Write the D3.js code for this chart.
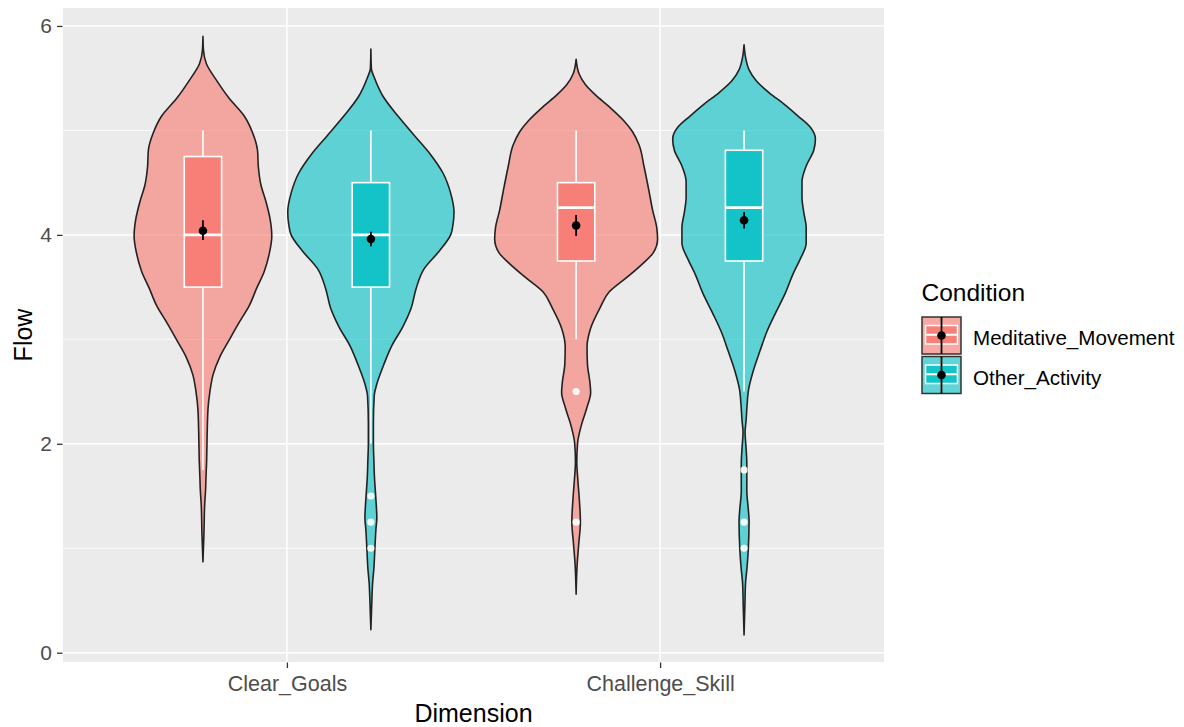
<!DOCTYPE html>
<html>
<head>
<meta charset="utf-8">
<script src="https://cdn.jsdelivr.net/npm/d3@7"></script>
<style>
  body { margin: 0; background: #ffffff; }
  text { font-family: "Liberation Sans", Arial, sans-serif; }
</style>
</head>
<body>
<svg id="chart" width="1184" height="727"></svg>
<script>
// ---- data ----
const categories = ["Clear_Goals", "Challenge_Skill"];
const conditions = ["Meditative_Movement", "Other_Activity"];
const yTicks = [0, 2, 4, 6];
const yMinorTicks = [1, 3, 5];

// violin density profiles: [Flow value, relative density (100 = widest violin)]
const densityMeditativeClear = [
  [5.90, 0], [5.77, 0.6], [5.64, 4], [5.47, 17], [5.31, 31], [5.14, 49], [4.98, 59],
  [4.81, 65], [4.65, 66], [4.48, 69], [4.32, 75], [4.15, 80], [3.99, 82], [3.82, 79],
  [3.65, 73], [3.49, 64], [3.32, 55], [3.16, 43], [2.99, 31], [2.83, 20], [2.66, 12],
  [2.50, 8.3], [2.33, 6], [2.00, 4.8], [1.84, 4.4], [1.67, 3.6], [1.57, 3.2], [1.41, 2],
  [1.14, 1.2], [0.87, 0]
];
const densityOtherClear = [
  [5.78, 0], [5.59, 0.6], [5.50, 4.4], [5.32, 15], [5.14, 32], [4.95, 52], [4.77, 71],
  [4.59, 86], [4.40, 95], [4.22, 99], [4.11, 98], [4.00, 95], [3.85, 82], [3.67, 63],
  [3.49, 54], [3.30, 48], [3.12, 38], [2.94, 25], [2.75, 15], [2.57, 7], [2.46, 4],
  [2.20, 3], [1.99, 3], [1.84, 3.6], [1.69, 4.2], [1.54, 5.4], [1.43, 6.3], [1.29, 7.1],
  [1.18, 6], [1.00, 4.8], [0.81, 3.6], [0.66, 2], [0.55, 1.4], [0.22, 0]
];
const densityMeditativeChallenge = [
  [5.68, 0], [5.54, 3.6], [5.44, 11], [5.34, 23], [5.23, 39], [5.10, 56], [4.99, 67],
  [4.86, 75], [4.65, 81], [4.41, 87], [4.24, 91], [4.07, 96], [3.96, 97], [3.83, 92],
  [3.73, 80], [3.59, 60], [3.45, 39], [3.31, 29], [3.10, 17], [2.93, 13], [2.76, 13.5],
  [2.59, 16.4], [2.49, 17.3], [2.35, 13], [2.18, 6.3], [2.01, 1.8], [1.83, 0.8],
  [1.66, 2], [1.49, 3.6], [1.25, 5.1], [1.05, 3.2], [0.84, 1.2], [0.56, 0]
];
const densityOtherChallenge = [
  [5.82, 0], [5.70, 1.8], [5.58, 6], [5.47, 15], [5.36, 30], [5.25, 48], [5.14, 64],
  [5.03, 79], [4.92, 85], [4.81, 83], [4.66, 74], [4.51, 69], [4.36, 69], [4.22, 71],
  [4.07, 74], [3.92, 74], [3.77, 67], [3.62, 58], [3.44, 49], [3.26, 38], [3.07, 27],
  [2.89, 19], [2.70, 11], [2.52, 5.4], [2.37, 3.6], [2.22, 2.4], [2.11, 1.2], [1.96, 2.4],
  [1.81, 3.3], [1.55, 3.3], [1.37, 5.1], [1.26, 6], [1.00, 5.1], [0.82, 3.6], [0.67, 1.8],
  [0.45, 1], [0.17, 0]
];

// one entry per (dimension, condition) group
const groupCategory = ["Clear_Goals", "Clear_Goals", "Challenge_Skill", "Challenge_Skill"];
const groupCondition = ["Meditative_Movement", "Other_Activity", "Meditative_Movement", "Other_Activity"];
const groupDensity = [densityMeditativeClear, densityOtherClear, densityMeditativeChallenge, densityOtherChallenge];
const whiskerLow = [1.75, 2.0, 3.0, 2.5];
const quartile1 = [3.5, 3.5, 3.75, 3.75];
const medians = [4.0, 4.0, 4.26, 4.26];
const quartile3 = [4.75, 4.5, 4.5, 4.81];
const whiskerHigh = [5, 5, 5, 5];
const outliers = [[], [1.5, 1.25, 1.0], [2.5, 1.25], [1.75, 1.25, 1.0]];
const means = [4.04, 3.96, 4.09, 4.14];
const ciLow = [3.95, 3.89, 3.99, 4.06];
const ciHigh = [4.14, 4.03, 4.19, 4.22];

// ---- layout ----
const svg = d3.select("#chart");
const panel = { left: 63, right: 884, top: 8, bottom: 662 };
const fillColor = d3.scaleOrdinal().domain(conditions).range(["#F8766D", "#00BFC4"]);

const x = d3.scalePoint().domain(categories).range([panel.left, panel.right]).padding(0.6);
const step = x.step();
const dodge = d3.scalePoint().domain(conditions).range([-0.225 * step, 0.225 * step]);
const y = d3.scaleLinear().domain([-0.089, 6.172]).range([panel.bottom, panel.top]);
const halfWidth = d3.scaleLinear().domain([0, 100]).range([0, 0.225 * step]);
const boxHalf = 0.05 * step;

// panel background and grid
svg.append("rect")
  .attr("x", panel.left).attr("y", panel.top)
  .attr("width", panel.right - panel.left).attr("height", panel.bottom - panel.top)
  .attr("fill", "#EBEBEB");

const grid = svg.append("g");
grid.selectAll(".minor").data(yMinorTicks).join("line")
  .attr("x1", panel.left).attr("x2", panel.right)
  .attr("y1", d => y(d)).attr("y2", d => y(d))
  .attr("stroke", "#ffffff").attr("stroke-width", 0.8);
grid.selectAll(".major").data(yTicks).join("line")
  .attr("x1", panel.left).attr("x2", panel.right)
  .attr("y1", d => y(d)).attr("y2", d => y(d))
  .attr("stroke", "#ffffff").attr("stroke-width", 1.5);
grid.selectAll(".vmajor").data(categories).join("line")
  .attr("x1", d => x(d)).attr("x2", d => x(d))
  .attr("y1", panel.top).attr("y2", panel.bottom)
  .attr("stroke", "#ffffff").attr("stroke-width", 1.5);

// axes
const yAxis = d3.axisLeft(y).tickValues(yTicks).tickFormat(d3.format("d")).tickSize(5.5).tickPadding(5);
svg.append("g").attr("transform", `translate(${panel.left - 0.5},0)`).call(yAxis)
  .call(g => g.select(".domain").remove())
  .call(g => g.selectAll("line").attr("stroke", "#333333").attr("stroke-width", 1.3))
  .call(g => g.selectAll("text").attr("fill", "#4D4D4D").attr("font-size", "21px")
    .attr("font-family", "Liberation Sans, Arial, sans-serif"));

const xAxis = d3.axisBottom(x).tickSize(5.5).tickPadding(8);
svg.append("g").attr("transform", `translate(0,${panel.bottom + 0.5})`).call(xAxis)
  .call(g => g.select(".domain").remove())
  .call(g => g.selectAll("line").attr("stroke", "#333333").attr("stroke-width", 1.3))
  .call(g => g.selectAll("text").attr("fill", "#4D4D4D").attr("font-size", "21.5px")
    .attr("font-family", "Liberation Sans, Arial, sans-serif"));

// axis titles
svg.append("text")
  .attr("x", (panel.left + panel.right) / 2).attr("y", 722)
  .attr("text-anchor", "middle").attr("font-size", "25px").attr("fill", "#000")
  .text("Dimension");
svg.append("text")
  .attr("transform", `translate(31.5,${(panel.top + panel.bottom) / 2}) rotate(-90)`)
  .attr("text-anchor", "middle").attr("font-size", "25px").attr("fill", "#000")
  .text("Flow");

// ---- violins, boxplots, means ----
const violinArea = d3.area()
  .y(d => y(d[0]))
  .curve(d3.curveMonotoneY);

const marks = svg.append("g");
groupCategory.forEach((cat, i) => {
  const cond = groupCondition[i];
  const cx = x(cat) + dodge(cond);
  const color = fillColor(cond);
  const g = marks.append("g");

  violinArea.x0(d => cx - halfWidth(d[1])).x1(d => cx + halfWidth(d[1]));
  g.append("path")
    .attr("d", violinArea(groupDensity[i]))
    .attr("fill", color).attr("fill-opacity", 0.6)
    .attr("stroke", "#222222").attr("stroke-width", 1.6)
    .attr("stroke-linejoin", "round");

  // whiskers
  g.append("line")
    .attr("x1", cx).attr("x2", cx)
    .attr("y1", y(whiskerHigh[i])).attr("y2", y(quartile3[i]))
    .attr("stroke", "#ffffff").attr("stroke-width", 1.6);
  g.append("line")
    .attr("x1", cx).attr("x2", cx)
    .attr("y1", y(quartile1[i])).attr("y2", y(whiskerLow[i]))
    .attr("stroke", "#ffffff").attr("stroke-width", 1.6);

  // box
  g.append("rect")
    .attr("x", cx - boxHalf).attr("width", 2 * boxHalf)
    .attr("y", y(quartile3[i])).attr("height", y(quartile1[i]) - y(quartile3[i]))
    .attr("fill", color).attr("fill-opacity", 0.8)
    .attr("stroke", "#ffffff").attr("stroke-width", 1.6);
  g.append("line")
    .attr("x1", cx - boxHalf).attr("x2", cx + boxHalf)
    .attr("y1", y(medians[i])).attr("y2", y(medians[i]))
    .attr("stroke", "#ffffff").attr("stroke-width", 2.8);

  // outliers
  g.selectAll(".out").data(outliers[i]).join("circle")
    .attr("cx", cx).attr("cy", d => y(d)).attr("r", 3.6)
    .attr("fill", "#ffffff").attr("fill-opacity", 0.9);

  // mean with interval
  g.append("line")
    .attr("x1", cx).attr("x2", cx)
    .attr("y1", y(ciHigh[i])).attr("y2", y(ciLow[i]))
    .attr("stroke", "#000000").attr("stroke-width", 1.8);
  g.append("circle")
    .attr("cx", cx).attr("cy", y(means[i])).attr("r", 4.3)
    .attr("fill", "#000000");
});

// ---- legend ----
const legend = svg.append("g").attr("transform", "translate(921.5,0)");
legend.append("text")
  .attr("x", 0).attr("y", 301)
  .attr("font-size", "24.5px").attr("fill", "#000")
  .text("Condition");

const keyW = 39, keyH = 37;
conditions.forEach((cond, i) => {
  const top = 317 + i * 39.5;
  const k = legend.append("g").attr("transform", `translate(0.5,${top})`);
  k.append("rect").attr("width", keyW).attr("height", keyH).attr("fill", "#F2F2F2");
  k.append("rect").attr("width", keyW).attr("height", keyH)
    .attr("fill", fillColor(cond)).attr("fill-opacity", 0.6)
    .attr("stroke", "#333333").attr("stroke-width", 1.5);
  const mx = keyW / 2;
  k.append("line").attr("x1", mx).attr("x2", mx).attr("y1", keyH * 0.1).attr("y2", keyH * 0.9)
    .attr("stroke", "#ffffff").attr("stroke-width", 1.5);
  k.append("rect")
    .attr("x", keyW * 0.09).attr("width", keyW * 0.82)
    .attr("y", keyH * 0.23).attr("height", keyH * 0.5)
    .attr("fill", fillColor(cond)).attr("fill-opacity", 0.8)
    .attr("stroke", "#ffffff").attr("stroke-width", 1.5);
  k.append("line").attr("x1", keyW * 0.09).attr("x2", keyW * 0.91)
    .attr("y1", keyH * 0.48).attr("y2", keyH * 0.48)
    .attr("stroke", "#ffffff").attr("stroke-width", 2);
  k.append("line").attr("x1", mx).attr("x2", mx).attr("y1", 0).attr("y2", keyH)
    .attr("stroke", "#000000").attr("stroke-width", 1.8);
  k.append("circle").attr("cx", mx).attr("cy", keyH / 2).attr("r", 4.3).attr("fill", "#000");

  legend.append("text")
    .attr("x", 51.5).attr("y", top + 28)
    .attr("font-size", "20.6px").attr("fill", "#000")
    .text(cond);
});
</script>
</body>
</html>
